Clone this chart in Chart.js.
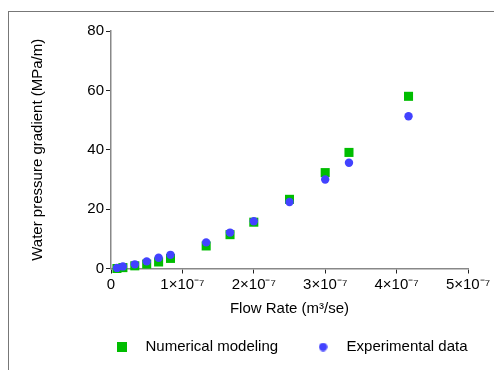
<!DOCTYPE html>
<html>
<head>
<meta charset="utf-8">
<script src="https://cdn.jsdelivr.net/npm/chart.js@4"></script>
<style>
	html, body { margin: 0; padding: 0; background: #fff; }
	#wrap { width: 494px; height: 370px; }
</style>
</head>
<body>
<div id="wrap"><canvas id="flowChart" width="494" height="370"></canvas></div>
<script>
// DATA
const flowRate = [8.33e-9, 1.667e-8, 3.333e-8, 5e-8, 6.667e-8, 8.333e-8, 1.333e-7, 1.667e-7, 2e-7, 2.5e-7, 3e-7, 3.333e-7, 4.167e-7];
const numerical = [0.0, 0.3, 0.9, 1.5, 2.2, 3.4, 7.6, 11.4, 15.6, 23.3, 32.3, 39.1, 58.0];
const experimental = [0.2, 0.7, 1.4, 2.4, 3.6, 4.6, 8.8, 12.1, 15.9, 22.4, 30.0, 35.6, 51.3];
const seriesNames = ['Numerical modeling', 'Experimental data'];
const xTicks = [0, 1e-7, 2e-7, 3e-7, 4e-7, 5e-7];
const yTicks = [0, 20, 40, 60, 80];

const green = '#00bd00';
const blue = '#4242ff';
const font = { family: '"Liberation Sans", Arial, sans-serif', size: 15 };

Chart.defaults.font = font;
Chart.defaults.color = '#000';

function toPoints(values) {
	return flowRate.map((x, i) => ({ x: x, y: values[i] }));
}

// small canvases for legend markers
function legendMarker(shape, color) {
	const c = document.createElement('canvas');
	c.width = shape === 'rect' ? 10 : 9;
	c.height = c.width;
	const ctx = c.getContext('2d');
	ctx.fillStyle = color;
	if (shape === 'rect') {
		ctx.fillRect(0, 0, 10, 10);
	} else {
		ctx.beginPath();
		ctx.arc(4.5, 4.5, 4.2, 0, Math.PI * 2);
		ctx.fill();
	}
	return c;
}
const markers = {};
markers[seriesNames[0]] = legendMarker('rect', green);
markers[seriesNames[1]] = legendMarker('circle', blue);

// outer frame
const framePlugin = {
	id: 'frame',
	beforeDraw(chart) {
		const ctx = chart.ctx;
		ctx.save();
		ctx.strokeStyle = '#777';
		ctx.lineWidth = 1;
		ctx.strokeRect(8.5, 11.5, 600, 600);
		ctx.restore();
	}
};

function supTick(v) {
	const n = Math.round(v / 1e-7);
	return n === 0 ? '0' : n + '×10⁻⁷';
}

const data = {
	datasets: [{
		label: seriesNames[1],
		data: toPoints(experimental),
		pointStyle: 'circle',
		pointRadius: 4.2,
		pointBorderWidth: 0,
		backgroundColor: blue,
		borderColor: blue,
		showLine: false,
		clip: false
	},
	{
		label: seriesNames[0],
		data: toPoints(numerical),
		pointStyle: 'rect',
		pointRadius: 6.4,
		pointBorderWidth: 0,
		backgroundColor: green,
		borderColor: green,
		showLine: false,
		clip: false
	}]
};

// left padding shifts the legend row right; the y axis box is narrowed to match
const padLeft = 77;

const config = {
	type: 'scatter',
	data: data,
	plugins: [framePlugin],
	options: {
		responsive: false,
		animation: false,
		layout: { padding: { left: padLeft, right: -2.5, top: 31, bottom: 5.5 } },
		plugins: {
			tooltip: { enabled: false },
			legend: {
				position: 'bottom',
				reverse: true,
				labels: {
					usePointStyle: true,
					pointStyleWidth: 32,
					padding: 29,
					font: font,
					generateLabels(chart) {
						const items = Chart.defaults.plugins.legend.labels.generateLabels(chart);
						items.forEach(it => { it.pointStyle = markers[it.text]; });
						return items;
					}
				}
			}
		},
		scales: {
			x: {
				type: 'linear',
				min: 0,
				max: 5e-7,
				afterFit(scale) {
					scale.height = 42;
					scale.paddingLeft = 0;
					scale.paddingRight = 26;
				},
				afterBuildTicks(scale) { scale.ticks = xTicks.map(v => ({ value: v })); },
				border: { color: '#888', width: 1.5 },
				grid: { drawOnChartArea: false, tickLength: 5, color: '#222' },
				ticks: { padding: 2, maxRotation: 0, callback: supTick },
				title: { display: true, text: 'Flow Rate (m³/se)', padding: { top: 0, bottom: -7 } }
			},
			y: {
				type: 'linear',
				min: 0,
				max: 80,
				afterFit(scale) { scale.width = 111 - padLeft; },
				afterBuildTicks(scale) { scale.ticks = yTicks.map(v => ({ value: v })); },
				border: { color: '#888', width: 1.5 },
				grid: { drawOnChartArea: false, tickLength: 5, color: '#222' },
				ticks: { padding: 2 },
				title: { display: true, text: 'Water pressure gradient (MPa/m)', padding: { top: 29 - padLeft, bottom: 0 } }
			}
		}
	}
};

new Chart(document.getElementById('flowChart').getContext('2d'), config);
</script>
</body>
</html>
